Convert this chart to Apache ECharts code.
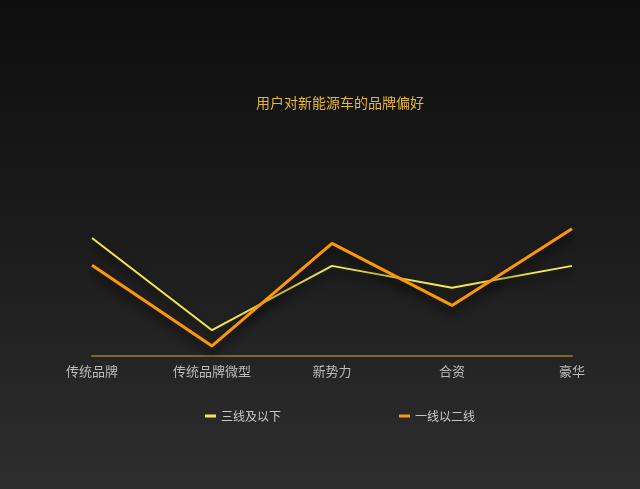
<!DOCTYPE html>
<html>
<head>
<meta charset="utf-8">
<script src="https://cdn.jsdelivr.net/npm/echarts@6/dist/echarts.min.js"></script>
<style>
html,body{margin:0;padding:0;width:640px;height:489px;overflow:hidden;}
#c{width:640px;height:489px;background:linear-gradient(to bottom,#0e0e0e 0%,#1c1c1c 50%,#2e2e2e 100%);}
</style>
</head>
<body>
<div id="c"></div>
<script>
var categories = ['传统品牌', '传统品牌微型', '新势力', '合资', '豪华'];
var seriesNames = ['三线及以下', '一线以二线'];
var lowTier = [35.2, 7.7, 26.9, 20.4, 26.9];
var highTier = [27.1, 3.0, 33.6, 15.1, 38.0];

var chart = echarts.init(document.getElementById('c'), null, {renderer: 'canvas'});
chart.setOption({
  backgroundColor: 'transparent',
  title: {
    text: '用户对新能源车的品牌偏好',
    left: 251,
    top: 91,
    textStyle: {color: '#e9b826', fontSize: 14, fontWeight: 'normal', fontFamily: 'Noto Sans CJK SC'}
  },
  legend: {
    data: seriesNames,
    left: 200,
    top: 405,
    itemGap: 118,
    icon: 'rect',
    itemWidth: 11,
    itemHeight: 3,
    textStyle: {color: '#c8c8c8', fontSize: 12, fontFamily: 'Noto Sans CJK SC'}
  },
  grid: {left: 92, right: 68, top: 21, bottom: 133, containLabel: false},
  xAxis: {
    type: 'category',
    data: categories,
    boundaryGap: false,
    axisLine: {lineStyle: {color: '#7d6628', width: 2}},
    axisTick: {show: false},
    axisLabel: {color: '#bcbcbc', fontSize: 13, margin: 9, fontFamily: 'Noto Sans CJK SC'},
    splitLine: {show: false}
  },
  yAxis: {
    type: 'value',
    min: 0,
    max: 100,
    show: false
  },
  series: [
    {
      name: seriesNames[0],
      type: 'line',
      data: lowTier,
      symbol: 'none',
      color: '#f3e84c',
      lineStyle: {color: '#f3e84c', width: 2, shadowColor: 'rgba(0,0,0,0.85)', shadowBlur: 10, shadowOffsetY: 6}
    },
    {
      name: seriesNames[1],
      type: 'line',
      data: highTier,
      symbol: 'none',
      color: '#ff9800',
      lineStyle: {color: '#ff9800', width: 3, shadowColor: 'rgba(0,0,0,0.85)', shadowBlur: 10, shadowOffsetY: 6}
    }
  ]
});
</script>
</body>
</html>
